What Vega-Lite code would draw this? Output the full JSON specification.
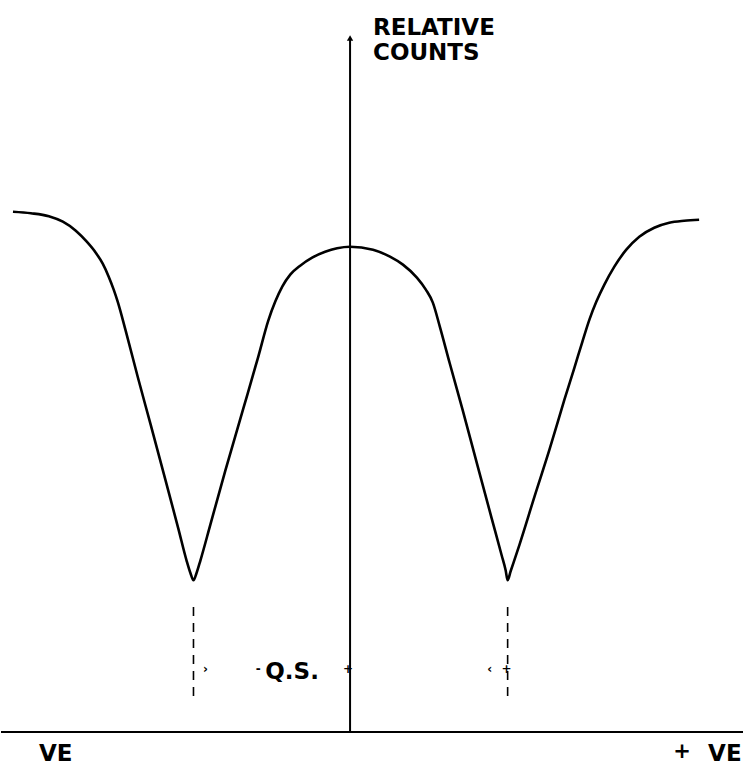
{
  "$schema": "https://vega.github.io/schema/vega-lite/v6.json",
  "width": 744,
  "height": 766,
  "padding": 0,
  "autosize": {"type": "fit", "contains": "padding"},
  "background": "white",
  "config": {"view": {"stroke": null}},
  "datasets": {
    "spectrum": [
      {"v": -3.38, "counts": 104.2}, {"v": -3.20, "counts": 103.9}, {"v": -3.02, "counts": 103.3},
      {"v": -2.88, "counts": 102.2}, {"v": -2.75, "counts": 100.4}, {"v": -2.64, "counts": 98.2},
      {"v": -2.55, "counts": 96.0}, {"v": -2.48, "counts": 93.8}, {"v": -2.42, "counts": 91.2},
      {"v": -2.37, "counts": 88.6}, {"v": -2.33, "counts": 86.2}, {"v": -2.25, "counts": 80.4},
      {"v": -2.13, "counts": 71.2}, {"v": -2.00, "counts": 61.6}, {"v": -1.85, "counts": 50.4},
      {"v": -1.72, "counts": 40.6}, {"v": -1.64, "counts": 34.4}, {"v": -1.60, "counts": 31.8},
      {"v": -1.57, "counts": 30.4}, {"v": -1.54, "counts": 31.8}, {"v": -1.50, "counts": 34.4},
      {"v": -1.40, "counts": 41.6}, {"v": -1.25, "counts": 52.4}, {"v": -1.07, "counts": 64.8},
      {"v": -0.92, "counts": 75.2}, {"v": -0.82, "counts": 82.4}, {"v": -0.75, "counts": 86.2},
      {"v": -0.68, "counts": 89.2}, {"v": -0.60, "counts": 91.6}, {"v": -0.50, "counts": 93.4},
      {"v": -0.38, "counts": 95.0}, {"v": -0.25, "counts": 96.2}, {"v": -0.13, "counts": 96.9},
      {"v": 0.00, "counts": 97.2}, {"v": 0.23, "counts": 96.6}, {"v": 0.40, "counts": 95.2},
      {"v": 0.53, "counts": 93.6}, {"v": 0.67, "counts": 91.0}, {"v": 0.76, "counts": 88.6},
      {"v": 0.83, "counts": 86.0}, {"v": 0.90, "counts": 81.2}, {"v": 1.00, "counts": 73.8},
      {"v": 1.13, "counts": 64.4}, {"v": 1.28, "counts": 53.2}, {"v": 1.42, "counts": 42.8},
      {"v": 1.52, "counts": 35.4}, {"v": 1.56, "counts": 32.4}, {"v": 1.58, "counts": 30.4},
      {"v": 1.61, "counts": 32.2}, {"v": 1.70, "counts": 37.6}, {"v": 1.85, "counts": 47.2},
      {"v": 2.00, "counts": 56.6}, {"v": 2.15, "counts": 66.6}, {"v": 2.25, "counts": 73.0},
      {"v": 2.33, "counts": 78.2}, {"v": 2.40, "counts": 82.6}, {"v": 2.47, "counts": 86.2},
      {"v": 2.55, "counts": 89.6}, {"v": 2.65, "counts": 93.2}, {"v": 2.77, "counts": 96.6},
      {"v": 2.90, "counts": 99.2}, {"v": 3.05, "counts": 101.0}, {"v": 3.20, "counts": 102.0},
      {"v": 3.35, "counts": 102.4}, {"v": 3.50, "counts": 102.6}
    ],
    "axes": [
      {"name": "velocity", "x": -3.5, "x2": 3.94, "y": 0, "y2": 0},
      {"name": "counts", "x": 0, "x2": 0, "y": 0, "y2": 139}
    ],
    "splitting": [
      {"line": "left", "x": -1.57, "x2": -1.57, "y": 7.2, "y2": 25.6},
      {"line": "right", "x": 1.58, "x2": 1.58, "y": 7.2, "y2": 25.6}
    ],
    "labels": [
      {"text": "RELATIVE", "x": 0.23, "y": 139.6},
      {"text": "COUNTS", "x": 0.23, "y": 134.6},
      {"text": "VE", "x": -3.12, "y": -5.8},
      {"text": "VE", "x": 3.59, "y": -5.8},
      {"text": "Q.S.", "x": -0.85, "y": 10.6}
    ],
    "ticks": [
      {"text": "›", "x": -1.45, "y": 12.6, "size": 12},
      {"text": "-", "x": -0.92, "y": 12.6, "size": 12},
      {"text": "+", "x": -0.02, "y": 12.6, "size": 12},
      {"text": "‹", "x": 1.40, "y": 12.6, "size": 12},
      {"text": "+", "x": 1.57, "y": 12.6, "size": 12},
      {"text": "+", "x": 3.33, "y": -4.0, "size": 21}
    ]
  },
  "layer": [
    {
      "data": {"name": "axes"},
      "mark": {"type": "rule", "color": "black", "strokeWidth": 2},
      "encoding": {
        "x": {"field": "x", "type": "quantitative", "scale": {"domain": [-3.5, 3.94], "nice": false, "zero": false}, "axis": null},
        "x2": {"field": "x2"},
        "y": {"field": "y", "type": "quantitative", "scale": {"domain": [-6.6, 146.6], "nice": false, "zero": false}, "axis": null},
        "y2": {"field": "y2"}
      }
    },
    {
      "data": {"values": [{"x": 0, "y": 139}]},
      "mark": {"type": "point", "shape": "triangle-up", "filled": true, "color": "black", "size": 40, "opacity": 1},
      "encoding": {
        "x": {"field": "x", "type": "quantitative"},
        "y": {"field": "y", "type": "quantitative"}
      }
    },
    {
      "data": {"name": "splitting"},
      "mark": {"type": "rule", "color": "black", "strokeWidth": 1.6, "strokeDash": [9, 7]},
      "encoding": {
        "x": {"field": "x", "type": "quantitative"},
        "x2": {"field": "x2"},
        "y": {"field": "y", "type": "quantitative"},
        "y2": {"field": "y2"}
      }
    },
    {
      "data": {"name": "spectrum"},
      "mark": {"type": "line", "color": "black", "strokeWidth": 2.6, "interpolate": "monotone"},
      "encoding": {
        "x": {"field": "v", "type": "quantitative"},
        "y": {"field": "counts", "type": "quantitative"}
      }
    },
    {
      "data": {"name": "labels"},
      "mark": {"type": "text", "align": "left", "baseline": "alphabetic", "font": "DejaVu Sans", "fontWeight": "bold", "fontSize": 23, "color": "black"},
      "encoding": {
        "x": {"field": "x", "type": "quantitative"},
        "y": {"field": "y", "type": "quantitative"},
        "text": {"field": "text"}
      }
    },
    {
      "data": {"name": "ticks"},
      "mark": {"type": "text", "align": "center", "baseline": "middle", "font": "DejaVu Sans", "fontWeight": "bold", "color": "black"},
      "encoding": {
        "x": {"field": "x", "type": "quantitative"},
        "y": {"field": "y", "type": "quantitative"},
        "text": {"field": "text"},
        "size": {"field": "size", "type": "quantitative", "scale": null}
      }
    }
  ]
}
